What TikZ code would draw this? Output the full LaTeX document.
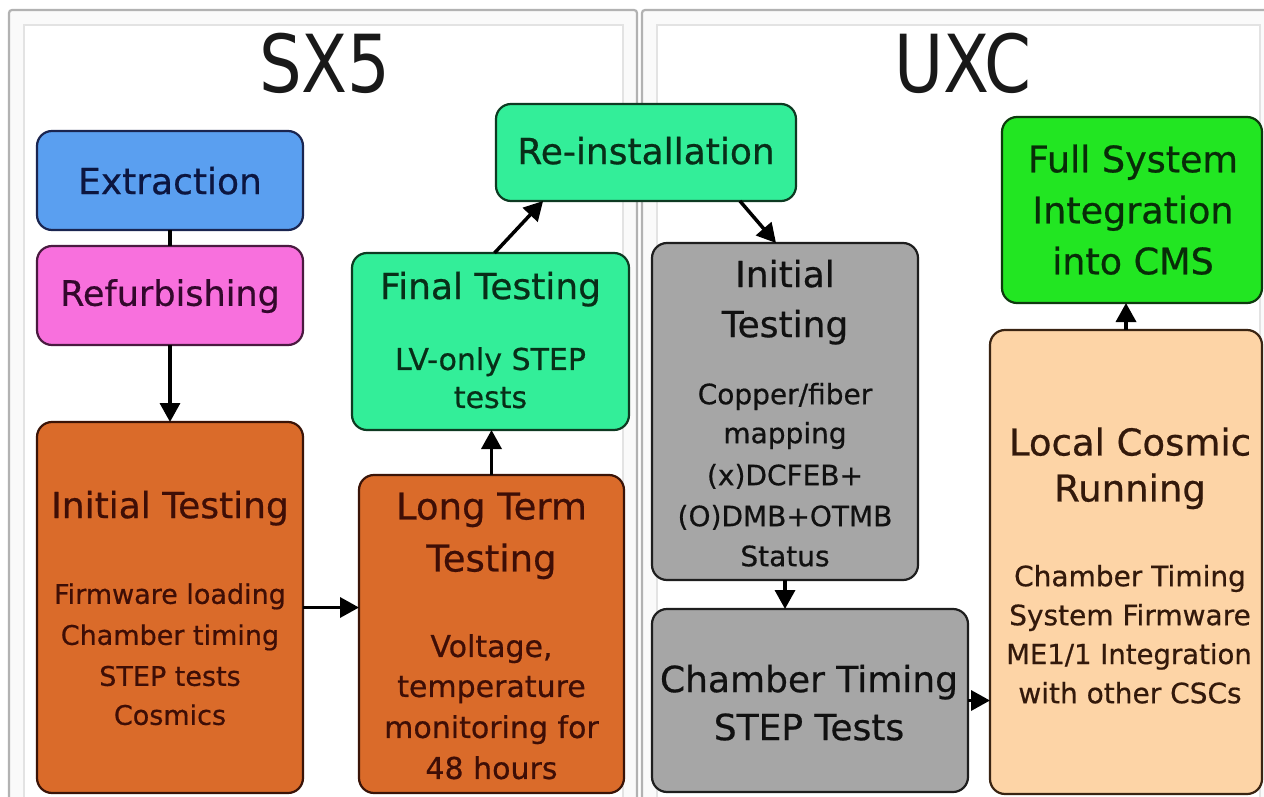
\documentclass[tikz,border=0pt]{standalone}
\usepackage{fontspec}
\setmainfont[FakeBold=0.6]{DejaVu Sans}
\newfontfamily\paneltitle[FakeStretch=0.84]{DejaVu Sans}
\usetikzlibrary{arrows.meta,calc}
\definecolor{cblue}{HTML}{5A9FF0}
\definecolor{dblue}{HTML}{1A2550}
\definecolor{tblue}{HTML}{0C1640}
\definecolor{cpink}{HTML}{F870DD}
\definecolor{dpink}{HTML}{4A1A40}
\definecolor{tpink}{HTML}{33082C}
\definecolor{corange}{HTML}{DA6B2A}
\definecolor{dorange}{HTML}{3A1408}
\definecolor{torange}{HTML}{3E0E06}
\definecolor{cseag}{HTML}{33EE99}
\definecolor{dseag}{HTML}{0E3A22}
\definecolor{tseag}{HTML}{082E18}
\definecolor{cgray}{HTML}{A6A6A6}
\definecolor{dgray}{HTML}{1E1E1E}
\definecolor{tgray}{HTML}{111111}
\definecolor{cpeach}{HTML}{FDD4A6}
\definecolor{dpeach}{HTML}{3A2412}
\definecolor{tpeach}{HTML}{33190B}
\definecolor{cgreen}{HTML}{22E622}
\definecolor{dgreen}{HTML}{0E3A0E}
\definecolor{tgreen}{HTML}{082C08}
\begin{document}
\begin{tikzpicture}[x=1pt,y=-1pt,
  box/.style={rectangle, rounded corners=15pt, line width=2.2pt, inner sep=0pt, outer sep=0pt},
  sz/.style={inner sep=0pt, outer sep=0pt, text depth=0pt, font=\fontsize{#1pt}{#1pt}\selectfont, text height={#1pt*0.729}},
  arr/.style={line width=3.5pt, draw=black, -{Triangle[length=19pt,width=20pt]}},
  lnk/.style={line width=3.5pt, draw=black},
  outerpanel/.style={draw=gray!60, line width=2.2pt, fill=gray!4, rounded corners=3pt},
  innerpanel/.style={draw=gray!22, line width=1.5pt, fill=white}]
\clip (0,0) rectangle (1264,797);
\fill[white] (0,0) rectangle (1264,797);
% panels
\draw[outerpanel] (9,10) rectangle (637,830);
\draw[innerpanel] (24,25) rectangle (623,830);
\draw[outerpanel] (642,10) rectangle (1290,830);
\draw[innerpanel] (657,25) rectangle (1260,830);
\node[inner sep=0pt, text depth=0pt, text height=58pt, font=\paneltitle\fontsize{80pt}{80pt}\selectfont, color=black!90] (sx5) at (325,64) {SX5};
\node[inner sep=0pt, text depth=0pt, text height=58pt, font=\paneltitle\fontsize{80pt}{80pt}\selectfont, color=black!90] (uxc) at (963,64) {UXC};
% boxes
\node[box, fill=cblue, draw=dblue, minimum width=266pt, minimum height=99pt] (extr) at (170,180.5) {};
\node[box, fill=cpink, draw=dpink, minimum width=266pt, minimum height=99pt] (refurb) at (170,295.5) {};
\node[box, fill=corange, draw=dorange, minimum width=266pt, minimum height=371pt] (init1) at (170,607.5) {};
\node[box, fill=corange, draw=dorange, minimum width=265pt, minimum height=318pt] (lt) at (491.5,634) {};
\node[box, fill=cseag, draw=dseag, minimum width=277pt, minimum height=177pt] (final) at (490.5,341.5) {};
\node[box, fill=cseag, draw=dseag, minimum width=300pt, minimum height=97pt] (reinst) at (646,152.5) {};
\node[box, fill=cgray, draw=dgray, minimum width=266pt, minimum height=337pt] (uinit) at (785,411.5) {};
\node[box, fill=cgray, draw=dgray, minimum width=316pt, minimum height=183pt] (chamber) at (810,700.5) {};
\node[box, fill=cpeach, draw=dpeach, minimum width=272pt, minimum height=464pt] (local) at (1126,562) {};
\node[box, fill=cgreen, draw=dgreen, minimum width=260pt, minimum height=186pt] (full) at (1132,210) {};
% texts
\node[sz=36, color=tblue] (extrT) at (170,181) {Extraction};
\node[sz=35, color=tpink] (refurbT) at (170,293) {Refurbishing};
\node[sz=36, color=torange] (init1T) at (170,505) {Initial Testing};
\node[sz=27, color=torange] (init1a) at (170,594) {Firmware loading};
\node[sz=27, color=torange] (init1b) at (170,635) {Chamber timing};
\node[sz=27, color=torange] (init1c) at (170,676) {STEP tests};
\node[sz=27, color=torange] (init1d) at (170,715) {Cosmics};
\node[sz=37, color=torange] (ltT1) at (491.5,506) {Long Term};
\node[sz=37, color=torange] (ltT2) at (491.5,558) {Testing};
\node[sz=30, color=torange] (lta) at (491.5,646) {Voltage,};
\node[sz=30, color=torange] (ltb) at (491.5,686) {temperature};
\node[sz=30, color=torange] (ltc) at (491.5,727) {monitoring for};
\node[sz=30, color=torange] (ltd) at (491.5,768) {48 hours};
\node[sz=36, color=tseag] (finalT) at (490.5,286) {Final Testing};
\node[sz=30, color=tseag] (finala) at (490.5,359) {LV-only STEP};
\node[sz=30, color=tseag] (finalb) at (490.5,397) {tests};
\node[sz=36, color=tseag] (reinstT) at (646,151) {Re-installation};
\node[sz=36, color=tgray] (uinitT1) at (785,274) {Initial};
\node[sz=36, color=tgray] (uinitT2) at (785,324) {Testing};
\node[sz=28, color=tgray] (uinita) at (785,394) {Copper/fiber};
\node[sz=28, color=tgray] (uinitb) at (785,433) {mapping};
\node[sz=28, color=tgray] (uinitc) at (785,475) {(x)DCFEB+};
\node[sz=28, color=tgray] (uinitd) at (785,516) {(O)DMB+OTMB};
\node[sz=28, color=tgray] (uinite) at (785,556) {Status};
\node[sz=36, color=tgray] (chamberT1) at (809,679) {Chamber Timing};
\node[sz=36, color=tgray] (chamberT2) at (809,727) {STEP Tests};
\node[sz=37, color=tpeach] (localT1) at (1130,442) {Local Cosmic};
\node[sz=37, color=tpeach] (localT2) at (1130,488) {Running};
\node[sz=28, color=tpeach] (locala) at (1130,576) {Chamber Timing};
\node[sz=28, color=tpeach] (localb) at (1130,615) {System Firmware};
\node[sz=27.5, color=tpeach] (localc) at (1129,654) {ME1/1 Integration};
\node[sz=28, color=tpeach] (locald) at (1130,693) {with other CSCs};
\node[sz=36.5, color=tgreen] (fullT1) at (1133,159) {Full System};
\node[sz=36.5, color=tgreen] (fullT2) at (1133,210) {Integration};
\node[sz=36.5, color=tgreen] (fullT3) at (1133,261) {into CMS};
% connectors
\draw[lnk] (extr) -- (refurb);
\draw[arr] (refurb) -- (init1);
\draw[arr] (init1.east) -- (init1.east -| lt.west);
\draw[arr] (lt.north) -- (lt.north |- final.south);
\draw[arr] ($(final.north)+(4,0)$) -- ($(reinst.south west)!0.157!(reinst.south east)$);
\draw[arr] ($(reinst.south west)!0.813!(reinst.south east)$) -- ($(uinit.north)+(-9,0)$);
\draw[arr] (uinit.south) -- (uinit.south |- chamber.north);
\draw[arr] (chamber.east) -- (chamber.east -| local.west);
\draw[arr] (local.north) -- (local.north |- full.south);
\end{tikzpicture}
\end{document}
